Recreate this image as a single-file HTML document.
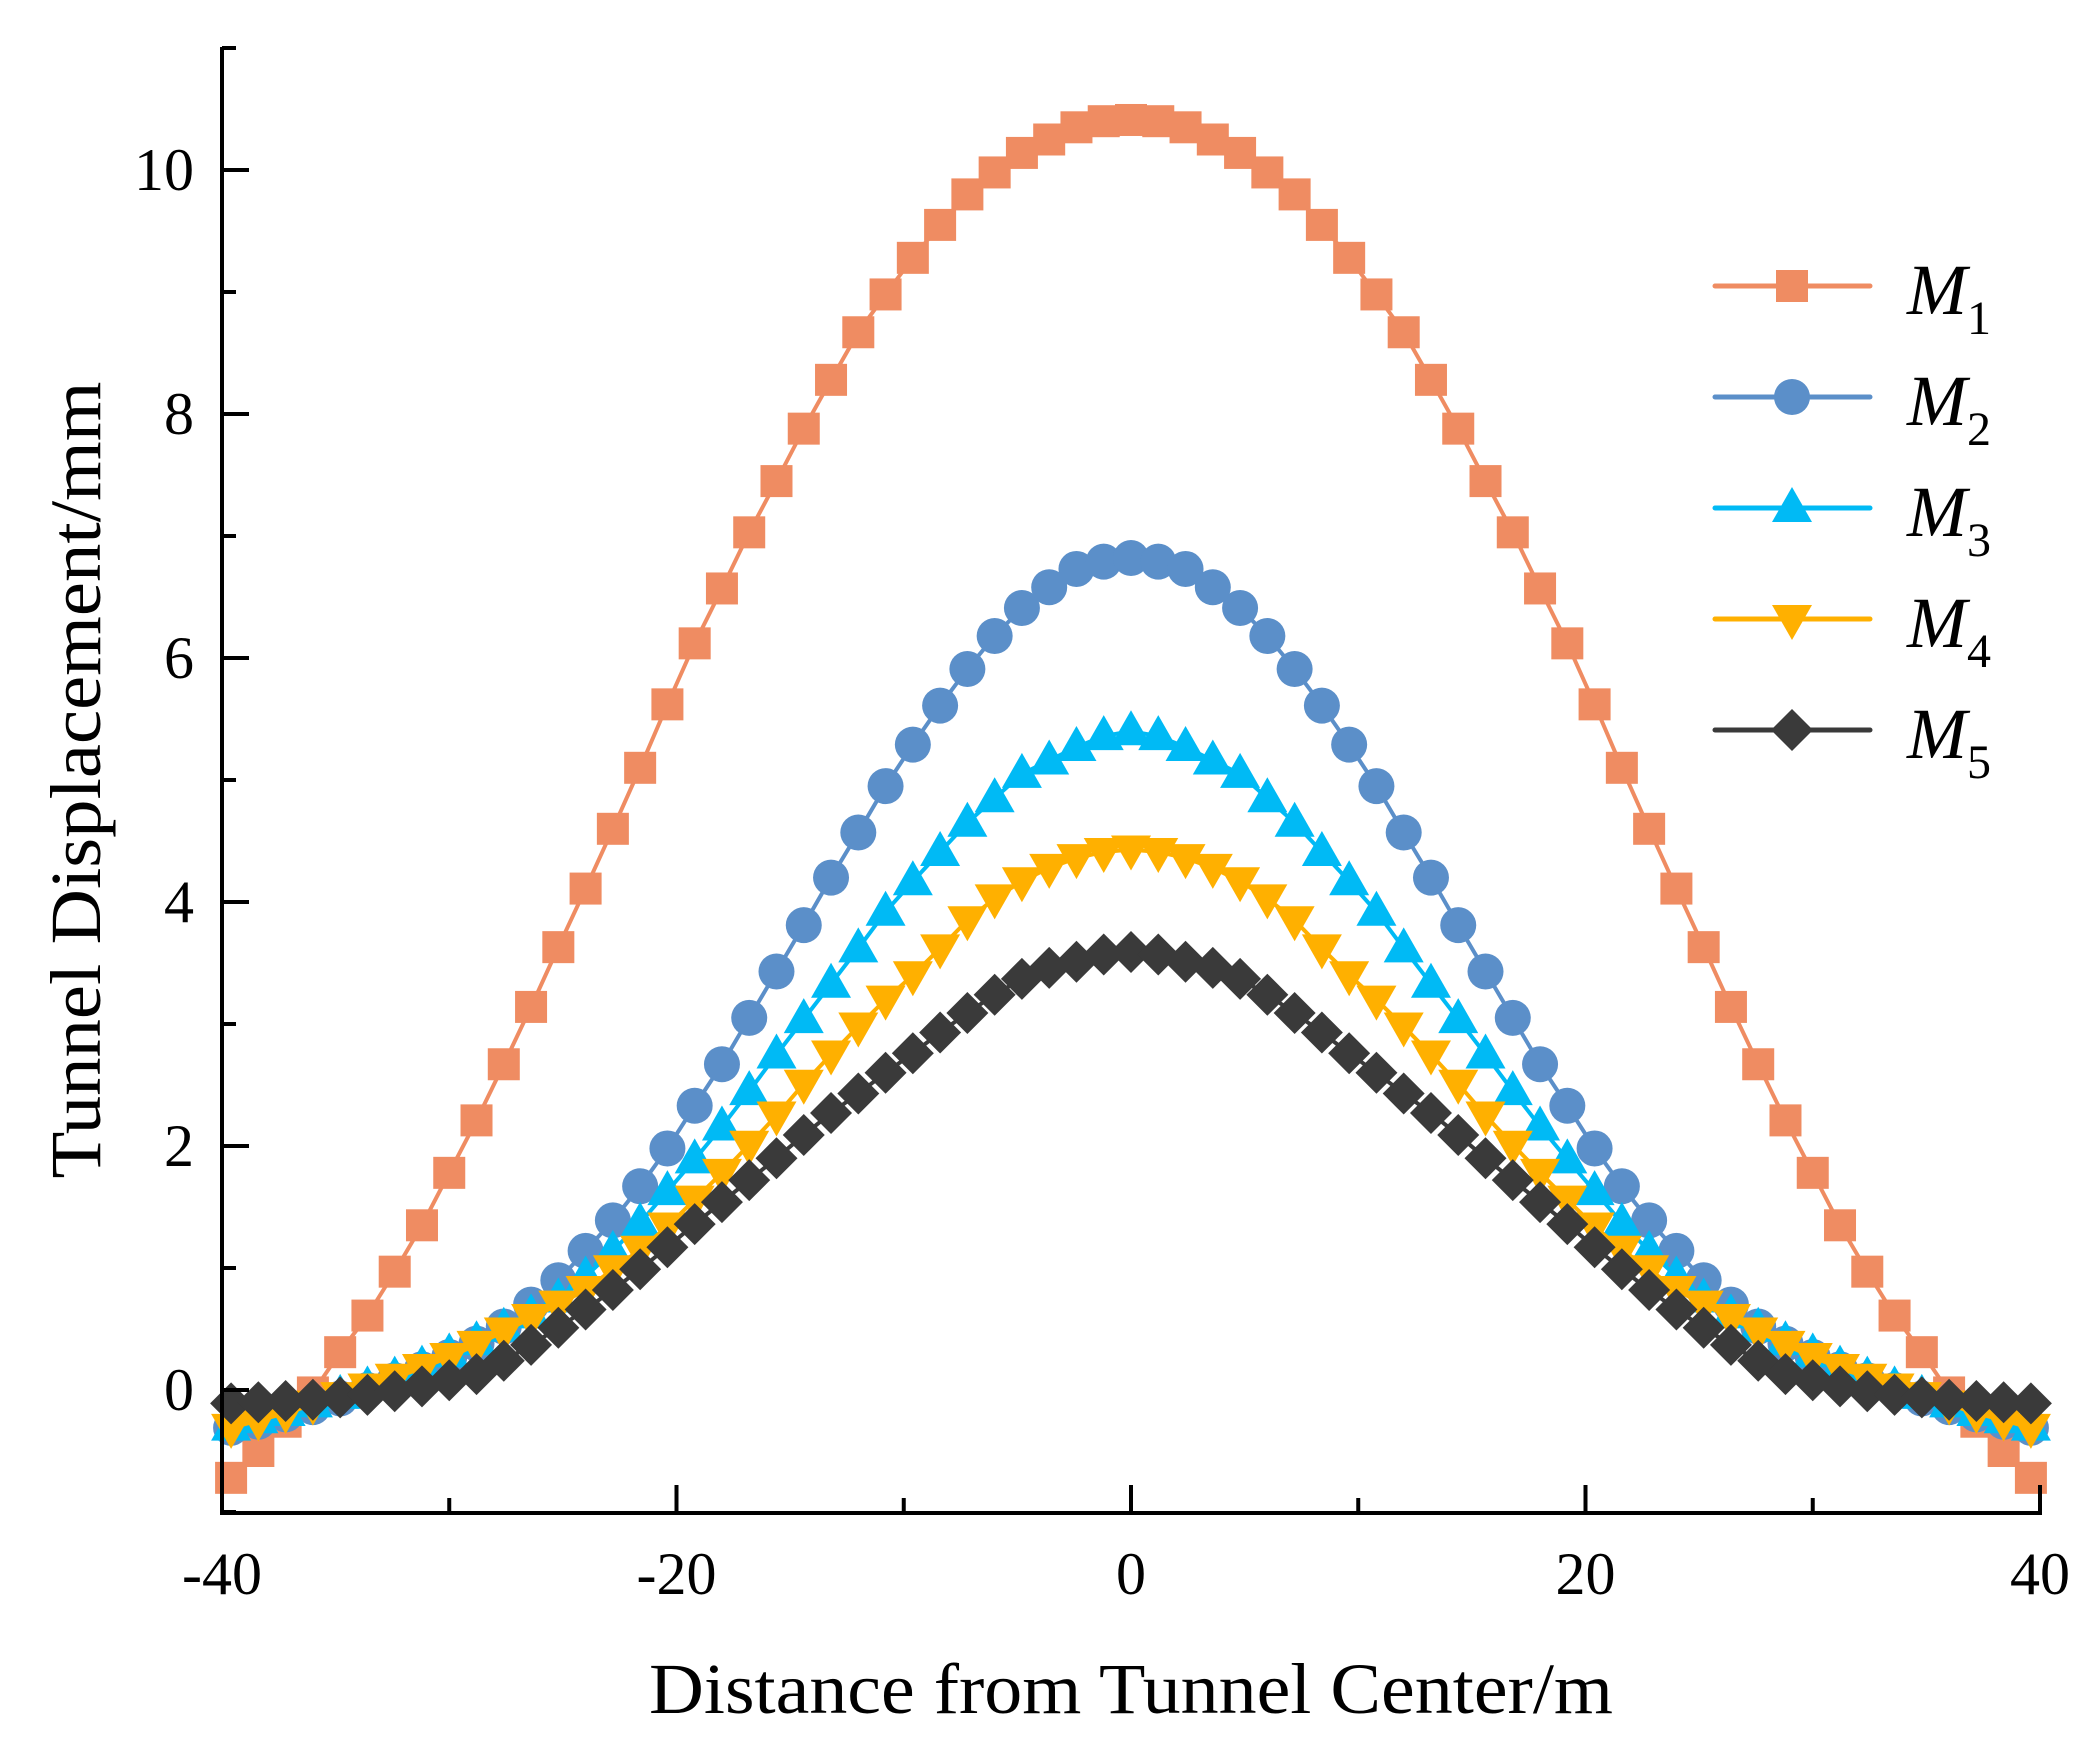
<!DOCTYPE html>
<html><head><meta charset="utf-8"><style>
html,body{margin:0;padding:0;background:#fff;}
svg{display:block;}
text{font-family:"Liberation Serif",serif;fill:#000;}
</style></head><body>
<svg id="chart" width="2099" height="1759" viewBox="0 0 2099 1759" xmlns="http://www.w3.org/2000/svg">
<g id="plot"></g>
<g id="axes"></g>
<g id="legend"></g>
</svg>
<script>
const xValues = [-39.6,-38.4,-37.2,-36.0,-34.8,-33.6,-32.4,-31.2,-30.0,-28.8,-27.6,-26.4,-25.2,-24.0,-22.8,-21.6,-20.4,-19.2,-18.0,-16.8,-15.6,-14.4,-13.2,-12.0,-10.8,-9.6,-8.4,-7.2,-6.0,-4.8,-3.6,-2.4,-1.2,0,1.2,2.4,3.6,4.8,6.0,7.2,8.4,9.6,10.8,12.0,13.2,14.4,15.6,16.8,18.0,19.2,20.4,21.6,22.8,24.0,25.2,26.4,27.6,28.8,30.0,31.2,32.4,33.6,34.8,36.0,37.2,38.4,39.6];
const m1Values = [-0.72,-0.50,-0.26,-0.02,0.31,0.61,0.97,1.35,1.78,2.21,2.67,3.14,3.63,4.11,4.60,5.10,5.62,6.12,6.57,7.03,7.45,7.88,8.28,8.67,8.98,9.28,9.55,9.80,9.98,10.14,10.25,10.35,10.40,10.41,10.40,10.35,10.25,10.14,9.98,9.80,9.55,9.28,8.98,8.67,8.28,7.88,7.45,7.03,6.57,6.12,5.62,5.10,4.60,4.11,3.63,3.14,2.67,2.21,1.78,1.35,0.97,0.61,0.31,-0.02,-0.26,-0.50,-0.72];
const m2Values = [-0.31,-0.26,-0.20,-0.14,-0.07,0.00,0.08,0.17,0.27,0.38,0.52,0.70,0.90,1.14,1.39,1.67,1.98,2.33,2.67,3.05,3.43,3.81,4.20,4.57,4.95,5.29,5.61,5.91,6.18,6.41,6.58,6.73,6.79,6.82,6.79,6.73,6.58,6.41,6.18,5.91,5.61,5.29,4.95,4.57,4.20,3.81,3.43,3.05,2.67,2.33,1.98,1.67,1.39,1.14,0.90,0.70,0.52,0.38,0.27,0.17,0.08,0.00,-0.07,-0.14,-0.20,-0.26,-0.31];
const m3Values = [-0.30,-0.24,-0.18,-0.11,-0.04,0.03,0.11,0.20,0.30,0.40,0.51,0.62,0.75,0.93,1.14,1.37,1.63,1.89,2.16,2.45,2.75,3.04,3.33,3.62,3.92,4.17,4.41,4.65,4.85,5.05,5.16,5.27,5.36,5.40,5.36,5.27,5.16,5.05,4.85,4.65,4.41,4.17,3.92,3.62,3.33,3.04,2.75,2.45,2.16,1.89,1.63,1.37,1.14,0.93,0.75,0.62,0.51,0.40,0.30,0.20,0.11,0.03,-0.04,-0.11,-0.18,-0.24,-0.30];
const m4Values = [-0.31,-0.25,-0.19,-0.12,-0.05,0.02,0.10,0.18,0.27,0.37,0.48,0.59,0.70,0.82,0.99,1.15,1.34,1.56,1.78,2.01,2.25,2.51,2.75,2.98,3.20,3.40,3.62,3.85,4.03,4.17,4.28,4.36,4.41,4.43,4.41,4.36,4.28,4.17,4.03,3.85,3.62,3.40,3.20,2.98,2.75,2.51,2.25,2.01,1.78,1.56,1.34,1.15,0.99,0.82,0.70,0.59,0.48,0.37,0.27,0.18,0.10,0.02,-0.05,-0.12,-0.19,-0.25,-0.31];
const m5Values = [-0.11,-0.10,-0.09,-0.08,-0.06,-0.04,-0.01,0.03,0.08,0.13,0.24,0.37,0.51,0.66,0.82,0.99,1.17,1.36,1.54,1.72,1.90,2.09,2.27,2.43,2.60,2.76,2.93,3.09,3.24,3.37,3.46,3.51,3.57,3.59,3.57,3.51,3.46,3.37,3.24,3.09,2.93,2.76,2.60,2.43,2.27,2.09,1.90,1.72,1.54,1.36,1.17,0.99,0.82,0.66,0.51,0.37,0.24,0.13,0.08,0.03,-0.01,-0.04,-0.06,-0.08,-0.09,-0.10,-0.11];
const seriesNames = ["M1","M2","M3","M4","M5"];
const seriesSubs = ["1","2","3","4","5"];
const xTickLabels = ["-40","-20","0","20","40"];
const xMajorTicks = [-40,-20,0,20,40];
const xMinorTicks = [-30,-10,10,30];
const yTickLabels = ["0","2","4","6","8","10"];
const yMajorTicks = [0,2,4,6,8,10];
const yMinorTicks = [-1,1,3,5,7,9,11];

const NS = "http://www.w3.org/2000/svg";
const X0 = 222, X1 = 2040, Y0 = 1390, YU = 122, AXB = 1513, AXT = 47;
function xs(v){ return X0 + (v + 40) * (X1 - X0) / 80; }
function ys(v){ return Y0 - v * YU; }
function mk(tag, attrs, parent){ const e = document.createElementNS(NS, tag); for (const k in attrs) e.setAttribute(k, attrs[k]); parent.appendChild(e); return e; }

const plot = document.getElementById('plot');
const axes = document.getElementById('axes');
const legend = document.getElementById('legend');

const colors = ["#EF8C62","#5B8FC9","#00BAF5","#FFB000","#3A3A3A"];
const shapes = ["square","circle","up","down","diamond"];
const allSeries = [m1Values, m2Values, m3Values, m4Values, m5Values];

function marker(shape, cx, cy, color, parent){
  let e;
  if (shape === "square") e = mk('rect', {x: cx-16, y: cy-16, width: 32, height: 32, fill: color}, parent);
  else if (shape === "circle") e = mk('circle', {cx: cx, cy: cy, r: 18, fill: color}, parent);
  else if (shape === "up") e = mk('polygon', {points: `${cx},${cy-21} ${cx+20},${cy+14} ${cx-20},${cy+14}`, fill: color}, parent);
  else if (shape === "down") e = mk('polygon', {points: `${cx},${cy+21} ${cx+20},${cy-14} ${cx-20},${cy-14}`, fill: color}, parent);
  else e = mk('polygon', {points: `${cx},${cy-21} ${cx+21},${cy} ${cx},${cy+21} ${cx-21},${cy}`, fill: color}, parent);
  return e;
}

allSeries.forEach((vals, si) => {
  const g = mk('g', {}, plot);
  
  
  const pts = xValues.map((x, i) => xs(x) + ',' + ys(vals[i])).join(' ');
  const line = mk('polyline', {points: pts, fill: 'none', stroke: colors[si], 'stroke-width': 4}, g);
  
  
  xValues.forEach((x, i) => {
    const m = marker(shapes[si], xs(x), ys(vals[i]), colors[si], g);
    
    
  });
});

const yAxis = mk('line', {x1: X0, y1: AXT, x2: X0, y2: AXB + 2, stroke: '#000', 'stroke-width': 4}, axes);


const xAxis = mk('line', {x1: X0 - 2, y1: AXB, x2: X1 + 2, y2: AXB, stroke: '#000', 'stroke-width': 4}, axes);



xMajorTicks.forEach((t, i) => {
  const tk = mk('line', {x1: xs(t), y1: AXB, x2: xs(t), y2: AXB - 28, stroke: '#000', 'stroke-width': 4}, axes);
  
  
  const lb = mk('text', {x: xs(t), y: 1594, 'font-size': 60, 'text-anchor': 'middle'}, axes);
  lb.textContent = xTickLabels[i];
  
  
});
xMinorTicks.forEach(t => {
  const tk = mk('line', {x1: xs(t), y1: AXB, x2: xs(t), y2: AXB - 15, stroke: '#000', 'stroke-width': 4}, axes);
  
  
});
yMajorTicks.forEach((t, i) => {
  const tk = mk('line', {x1: X0, y1: ys(t), x2: X0 + 27, y2: ys(t), stroke: '#000', 'stroke-width': 4}, axes);
  
  
  const lb = mk('text', {x: 194, y: ys(t) + 20, 'font-size': 60, 'text-anchor': 'end'}, axes);
  lb.textContent = yTickLabels[i];
  
  
});
yMinorTicks.forEach(t => {
  const tk = mk('line', {x1: X0, y1: ys(t), x2: X0 + 14, y2: ys(t), stroke: '#000', 'stroke-width': 4}, axes);
  
  
});

const xt = mk('text', {x: 1131, y: 1713, 'font-size': 72, 'text-anchor': 'middle', textLength: 964, lengthAdjust: 'spacingAndGlyphs'}, axes);
xt.textContent = 'Distance from Tunnel Center/m';


const yt = mk('text', {x: 0, y: 0, 'font-size': 72, 'text-anchor': 'middle', textLength: 797, lengthAdjust: 'spacingAndGlyphs', transform: 'translate(100,780) rotate(-90)'}, axes);
yt.textContent = 'Tunnel Displacement/mm';



seriesNames.forEach((n, i) => {
  const cy = 286 + i * 111;
  const g = mk('g', {}, legend);
  
  
  mk('line', {x1: 1715, y1: cy, x2: 1870, y2: cy, stroke: colors[i], 'stroke-width': 5, 'stroke-linecap': 'round'}, g);
  marker(shapes[i], 1792, cy, colors[i], g);
  const t = mk('text', {x: 1907, y: cy + 28, 'font-size': 72, 'font-style': 'italic'}, g);
  t.textContent = 'M';
  const s = mk('tspan', {dy: 20, 'font-size': 48, 'font-style': 'normal'}, t);
  s.textContent = seriesSubs[i];
});
</script>
</body></html>
